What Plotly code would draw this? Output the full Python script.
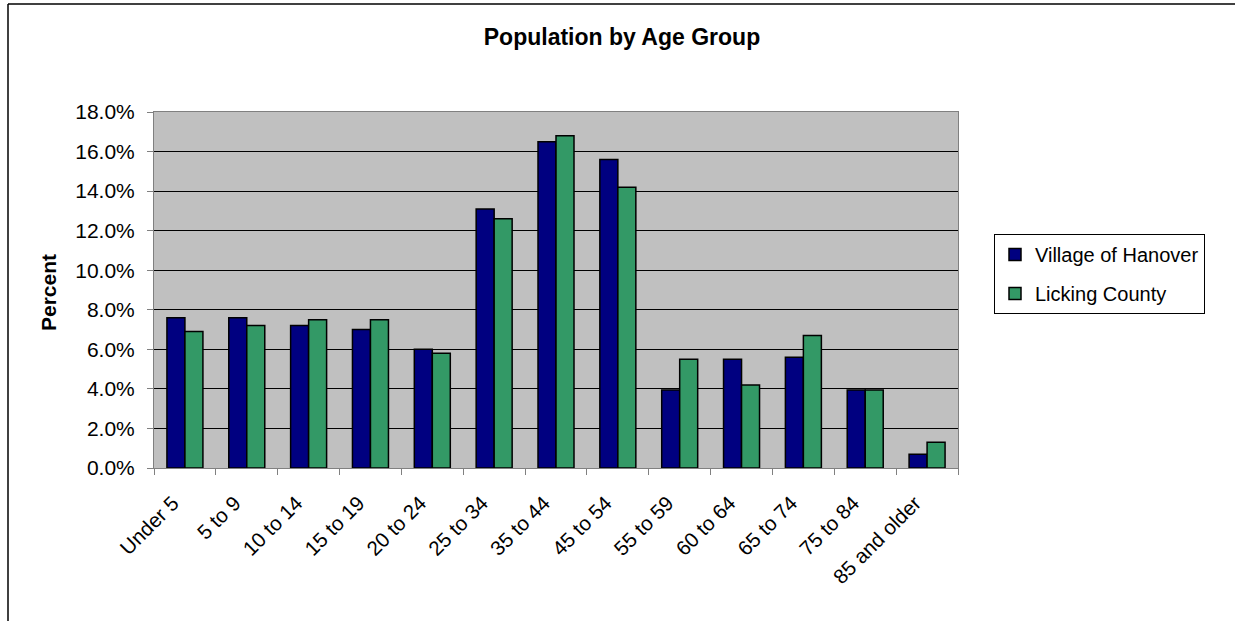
import plotly.graph_objects as go

categories = ["Under 5", "5 to 9", "10 to 14", "15 to 19", "20 to 24", "25 to 34",
              "35 to 44", "45 to 54", "55 to 59", "60 to 64", "65 to 74", "75 to 84",
              "85 and older"]
hanover = [7.6, 7.6, 7.2, 7.0, 6.0, 13.1, 16.5, 15.6, 3.95, 5.5, 5.6, 3.95, 0.7]
licking = [6.9, 7.2, 7.5, 7.5, 5.8, 12.6, 16.8, 14.2, 5.5, 4.2, 6.7, 3.95, 1.3]
series_names = ["Village of Hanover", "Licking County"]

W, H = 1235, 621
L, R, T, B = 154, 277, 112, 153
PW, PH = W - L - R, H - T - B

def px_x(px):
    return (px - L) / PW

def px_y(py):
    return (H - B - py) / PH

FONT = "Liberation Sans, Arial, sans-serif"

fig = go.Figure()
fig.add_trace(go.Bar(x=categories, y=hanover, name=series_names[0], legendgroup="a",
                     marker=dict(color="#000080", line=dict(color="black", width=1.5))))
fig.add_trace(go.Bar(x=categories, y=licking, name=series_names[1], legendgroup="b",
                     marker=dict(color="#339966", line=dict(color="black", width=1.5))))

fig.update_layout(
    width=W, height=H,
    margin=dict(l=L, r=R, t=T, b=B),
    paper_bgcolor="white",
    plot_bgcolor="#C0C0C0",
    barmode="group", bargap=0.418, bargroupgap=0,
    font=dict(family=FONT, size=20, color="black"),
    title=dict(text="<b>Population by Age Group</b>", x=622 / W, xanchor="center",
               y=1 - 37 / H, yanchor="middle", font=dict(size=23, family=FONT, color="black")),
    xaxis=dict(type="category", tickangle=-45, ticks="outside", tickson="boundaries",
               ticklen=6, tickcolor="#808080", showline=True, linecolor="#808080",
               linewidth=1, mirror=True, showgrid=False, ticklabelstandoff=14,
               ticklabelshift=-12,
               tickfont=dict(size=20.5, family=FONT, color="black")),
    yaxis=dict(range=[0, 18], dtick=2, tickformat=".1f", ticksuffix="%",
               ticks="outside", ticklen=6, tickcolor="#808080", showline=True,
               linecolor="#808080", linewidth=1, mirror=True, ticklabelstandoff=8,
               showgrid=True, gridcolor="black", gridwidth=1, zeroline=False,
               tickfont=dict(size=21, family=FONT, color="black")),
    legend=dict(x=px_x(994), y=px_y(234), xanchor="left", yanchor="top",
                bordercolor="black", borderwidth=1, bgcolor="white",
                font=dict(size=20, family=FONT, color="black"),
                traceorder="grouped", tracegroupgap=10, itemwidth=30),
    showlegend=True,
)

fig.add_annotation(text="<b>Percent</b>", textangle=-90, xref="paper", yref="paper",
                   x=px_x(48), y=px_y(292), xanchor="center", yanchor="middle",
                   showarrow=False, font=dict(size=21, family=FONT, color="black"))

# outer chart border (top and left edges visible)
fig.add_shape(type="line", xref="paper", yref="paper", x0=px_x(8), y0=px_y(4),
              x1=px_x(1240), y1=px_y(4), line=dict(color="black", width=1.5))
fig.add_shape(type="line", xref="paper", yref="paper", x0=px_x(8), y0=px_y(4),
              x1=px_x(8), y1=px_y(630), line=dict(color="black", width=1.5))

fig.write_html("out.html")
